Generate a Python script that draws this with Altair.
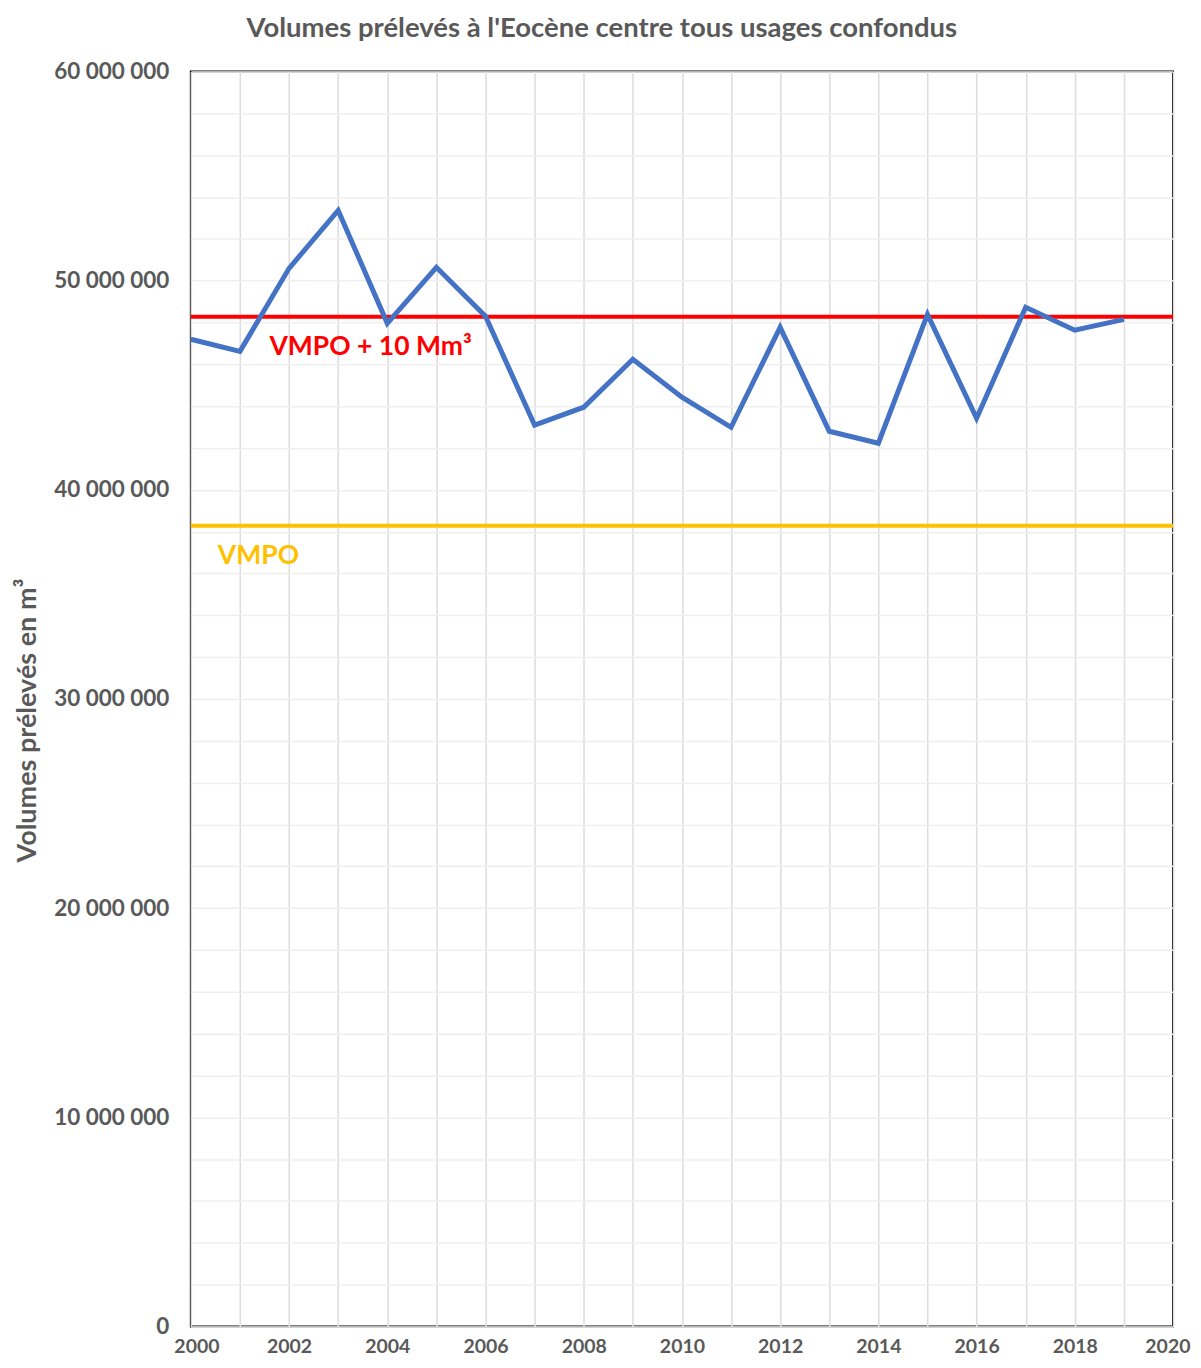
import altair as alt
import pandas as pd

years = list(range(2000, 2020))
volumes = [47.2, 46.62, 50.59, 53.36, 47.96, 50.64, 48.3, 43.09, 43.95, 46.24,
           44.43, 42.99, 47.77, 42.80, 42.23, 48.39, 43.42, 48.73, 47.63, 48.15]
volumes_m3 = [v * 1_000_000 for v in volumes]

vmpo = 38_280_000
vmpo_plus = vmpo + 10_000_000

threshold_names = ["VMPO + 10 Mm³", "VMPO"]
threshold_values = [vmpo_plus, vmpo]
threshold_colors = ["#FF0000", "#FFC000"]

x_ticks = list(range(2000, 2021))
y_ticks = list(range(0, 60_000_001, 2_000_000))

FONT = "Lato"
GREY = "#595959"

df = pd.DataFrame({"year": years, "volume": volumes_m3})
thr = pd.DataFrame({"name": threshold_names, "value": threshold_values,
                    "color": threshold_colors, "x0": [2000, 2000], "x1": [2020, 2020],
                    "lx": [2001.6, 2000.55]})

xs = alt.Scale(domain=[2000, 2020], nice=False, zero=False)
ys = alt.Scale(domain=[0, 60_000_000], nice=False)

x_axis = alt.Axis(values=x_ticks, labelExpr="datum.value % 2 == 0 ? datum.value : ''",
                  grid=True, gridColor="#dcdcdc", gridWidth=1.5, ticks=False,
                  domain=False, labelFont=FONT, labelFontSize=19.5, labelFontWeight="bold",
                  labelColor=GREY, labelPadding=11, title=None,
                  labelFlush=True, labelFlushOffset=17)
y_axis = alt.Axis(values=y_ticks,
                  labelExpr="datum.value % 10000000 == 0 ? replace(format(datum.value, ','), /,/g, ' ') : ''",
                  grid=True, gridColor="#efefef", gridWidth=1.5, ticks=False, domain=False,
                  labelFont=FONT, labelFontSize=22.5, labelFontWeight="bold", labelColor=GREY,
                  labelPadding=22, title="Volumes prélevés en m³", titleFont=FONT,
                  titleFontSize=27, titleFontWeight="bold", titleColor=GREY, titlePadding=12,
                  titleY=649)

line = alt.Chart(df).mark_line(color="#4472C4", strokeWidth=5, clip=True).encode(
    x=alt.X("year:Q", scale=xs, axis=x_axis),
    y=alt.Y("volume:Q", scale=ys, axis=y_axis),
)

rules = alt.Chart(thr).mark_rule(strokeWidth=4).encode(
    x=alt.X("x0:Q", scale=xs),
    x2="x1:Q",
    y=alt.Y("value:Q", scale=ys),
    color=alt.Color("color:N", scale=None),
)

labels = alt.Chart(thr).mark_text(align="left", baseline="middle", dy=30,
                                  font=FONT, fontSize=26.5, fontWeight="bold").encode(
    x=alt.X("lx:Q", scale=xs),
    y=alt.Y("value:Q", scale=ys),
    text="name:N",
    color=alt.Color("color:N", scale=None),
)

chart = alt.layer(rules, line, labels).properties(
    width=983, height=1256,
    title=alt.TitleParams("Volumes prélevés à l'Eocène centre tous usages confondus",
                          font=FONT, fontSize=27.5, fontWeight="bold", color=GREY,
                          anchor="middle", frame="bounds", offset=18),
    autosize=alt.AutoSizeParams(type="none"),
    padding={"left": 183, "top": 63, "right": 20, "bottom": 33},
).configure_view(stroke="#000000", strokeWidth=2)

chart.save("out.html", embed_options={"renderer": "svg", "actions": False})
